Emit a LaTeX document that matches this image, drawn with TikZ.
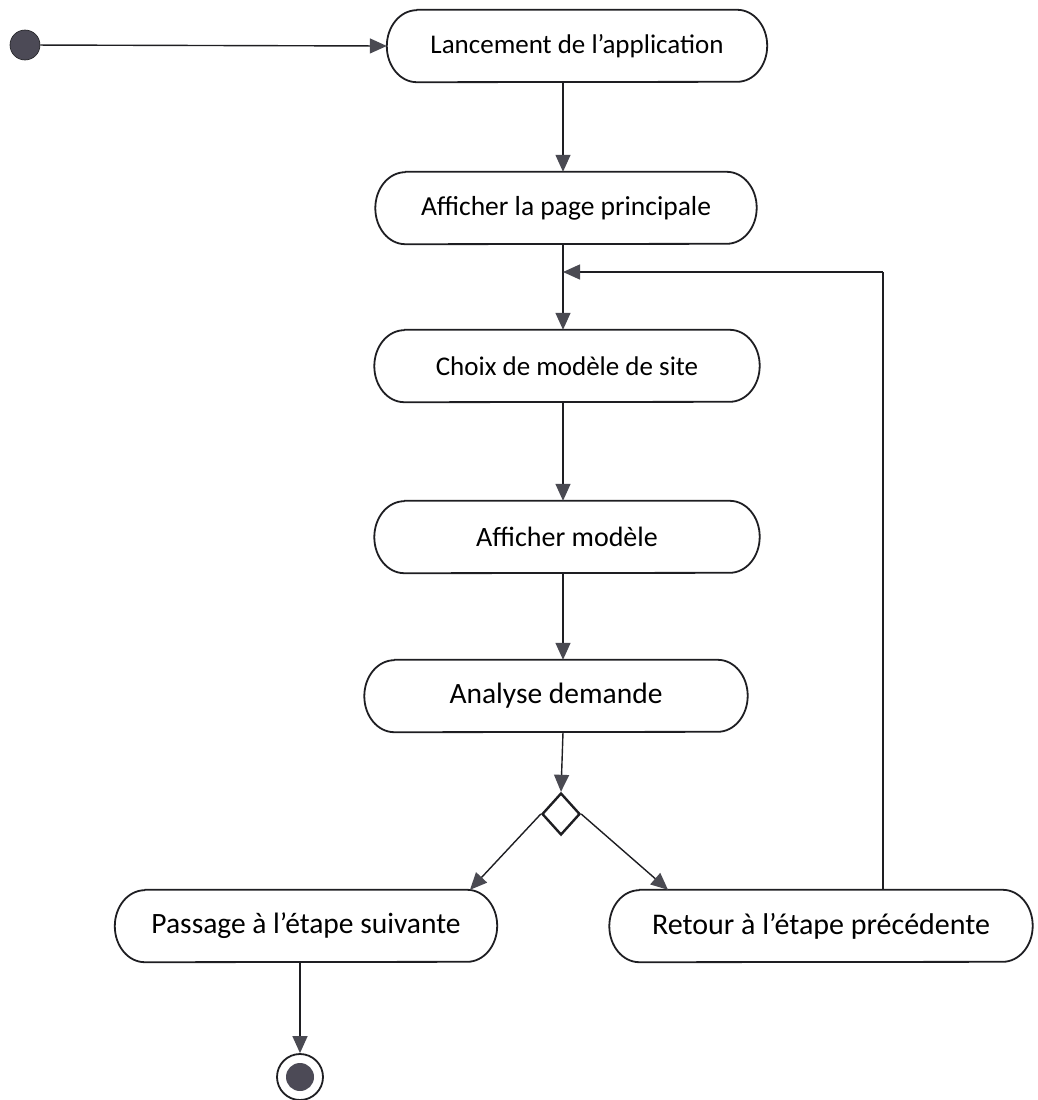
\documentclass[tikz,border=0pt]{standalone}
\usepackage{fontspec}
\setmainfont{Carlito}
\usetikzlibrary{arrows.meta,shapes.geometric}

\definecolor{ink}{HTML}{1E1E22}
\definecolor{tipgray}{HTML}{4A4A52}
\definecolor{dotgray}{HTML}{4C4A56}

\tikzset{
  activity/.style={rectangle, draw=none, minimum height=72pt, inner sep=0pt,
    font=\fontsize{27}{31}\selectfont},
  boxline/.style={draw=ink, line width=1.8pt, line join=round},
  flow/.style={draw=ink, line width=1.4pt,
    -{Triangle[length=17pt,width=15pt,fill=tipgray,color=tipgray]}},
  plainline/.style={draw=ink, line width=1.4pt},
}

% outline of an activity: straight top and bottom, half-ellipse ends
\newcommand\capsuleoutline[1]{%
  \draw[boxline] ([xshift=30pt]#1.north west) -- ([xshift=-30pt]#1.north east)
    arc[start angle=90, end angle=-90, x radius=30pt, y radius=36pt]
    -- ([xshift=30pt]#1.south west)
    arc[start angle=270, end angle=90, x radius=30pt, y radius=36pt] -- cycle;}

\begin{document}
\begin{tikzpicture}[x=1pt,y=-1pt]
  \useasboundingbox (0,0) rectangle (1037,1100);

  % spine of the main flow, branch landing points and turning point of the return loop
  \coordinate (spine) at (563,0);
  \coordinate (leftland) at (470,0);
  \coordinate (rightland) at (668,0);
  \coordinate (ret) at (883,272);

  % initial node
  \node[circle, fill=dotgray, draw=ink, line width=0.6pt, minimum size=30pt, inner sep=0pt] (start) at (25,45) {};

  % activities
  \node[activity, minimum width=380pt] (a1) at (577,46) {Lancement de l’application};
  \node[activity, minimum width=381pt, font=\fontsize{27.5}{31}\selectfont] (a2) at (566,208) {Afficher la page principale};
  \node[activity, minimum width=385pt] (a3) at (567,366) {Choix de modèle de site};
  \node[activity, minimum width=385pt, font=\fontsize{28}{32}\selectfont] (a4) at (567,537) {Afficher modèle};
  \node[activity, minimum width=383pt, font=\fontsize{29.5}{34}\selectfont] (a5) at (556,696) {Analyse demande};
  \node[activity, minimum width=382pt, font=\fontsize{29.5}{34}\selectfont] (a6) at (306,926) {Passage à l’étape suivante};
  \node[activity, minimum width=423pt, font=\fontsize{30}{34}\selectfont] (a7) at (821,926) {Retour à l’étape précédente};
  \foreach \n in {a1,a2,a3,a4,a5,a6,a7} {\capsuleoutline{\n}}

  % decision
  \node[diamond, draw=ink, line width=2.4pt, fill=white, minimum width=38pt, minimum height=42pt, inner sep=0pt] (dec) at (561,814) {};

  % final node
  \node[circle, draw=ink, line width=1.8pt, fill=white, minimum size=46pt, inner sep=0pt] (end) at (300,1077) {};
  \node[circle, fill=dotgray, minimum size=28pt, inner sep=0pt] (endcore) at (end) {};

  % transitions
  \draw[flow] (start) -- (a1.west);
  \draw[flow] (a1.south -| spine) -- (a2.north -| spine);
  \draw[flow] (a2.south -| spine) -- (a3.north -| spine);
  \draw[flow] (a3.south -| spine) -- (a4.north -| spine);
  \draw[flow] (a4.south -| spine) -- (a5.north -| spine);
  \draw[flow] (a5.south -| spine) -- (dec.north);
  \draw[flow] (dec.west) -- (a6.north -| leftland);
  \draw[flow] (dec.east) -- (a7.north -| rightland);
  \draw[plainline] (a7.north -| ret) -- (ret);
  \draw[flow] (ret) -- (ret -| spine);
  \draw[flow] (a6.south -| end) -- (end.north);
\end{tikzpicture}
\end{document}
